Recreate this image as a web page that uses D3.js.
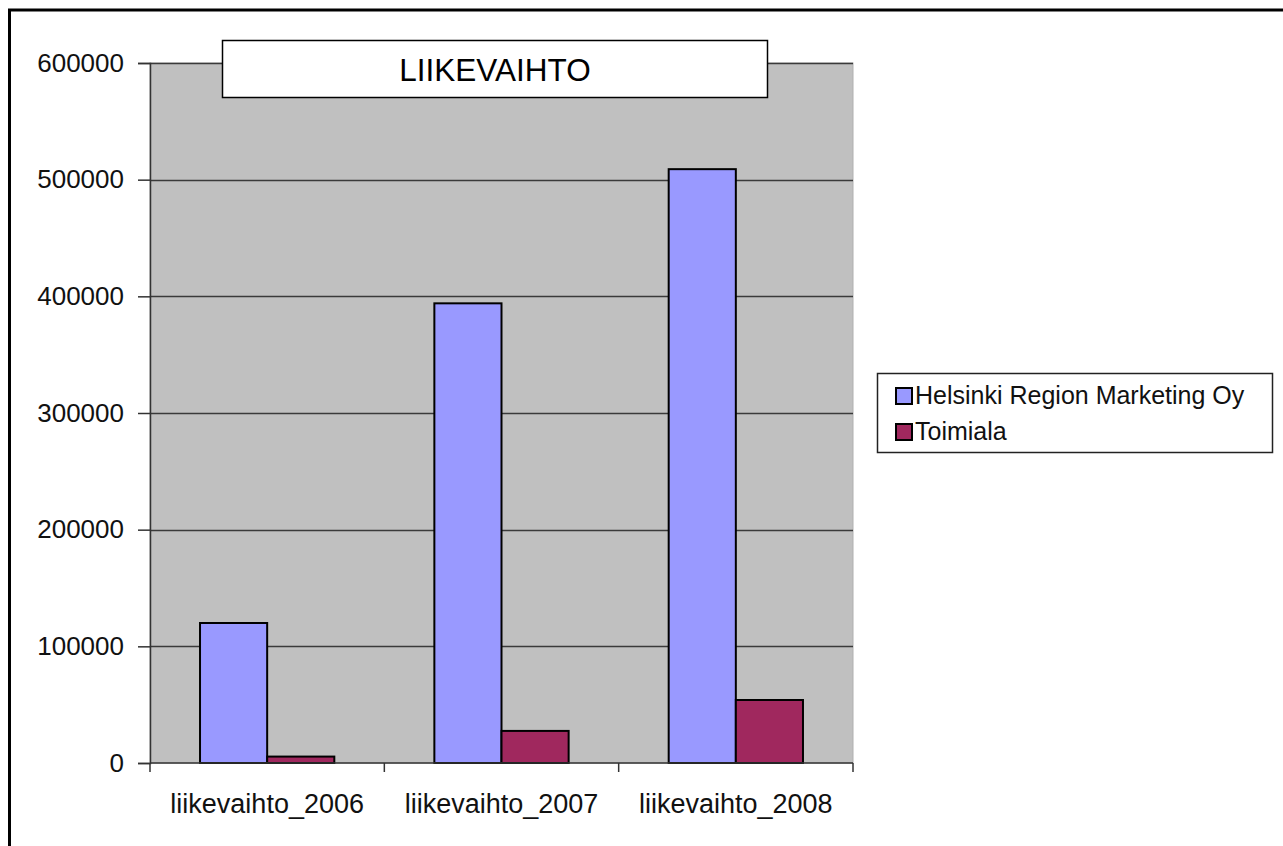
<!DOCTYPE html>
<html><head><meta charset="utf-8">
<script src="https://cdn.jsdelivr.net/npm/d3@7/dist/d3.min.js"></script>
<style>body{margin:0;background:#fff;}svg{display:block;font-family:Arial,"Liberation Sans",sans-serif;}</style>
</head><body><svg id="c" width="1283" height="846"></svg>
<script>
const categories = ["liikevaihto_2006", "liikevaihto_2007", "liikevaihto_2008"];
const seriesNames = ["Helsinki Region Marketing Oy", "Toimiala"];
const helsinkiValues = [120000, 394000, 509000];
const toimialaValues = [5500, 27500, 54000];
const yTicks = [0, 100000, 200000, 300000, 400000, 500000, 600000];
const colors = ["#9999ff", "#a0285e"];
const chartTitle = "LIIKEVAIHTO";

const svg = d3.select("#c");
// outer frame
svg.append("rect").attr("x", 9.5).attr("y", 10).attr("width", 1400).attr("height", 1000)
  .attr("fill", "#fff").attr("stroke", "#000").attr("stroke-width", 3);

const L = 150, R = 853, T = 63, B = 763;
const x = d3.scaleBand().domain(categories).range([L, R]).paddingInner(0).paddingOuter(0);
const xs = d3.scaleBand().domain(seriesNames).range([0, x.bandwidth()]).paddingInner(0).paddingOuter(0.745);
const y = d3.scaleLinear().domain([0, 600000]).range([B, T]);

// plot area
svg.append("rect").attr("x", L).attr("y", T).attr("width", R - L).attr("height", B - T)
  .attr("fill", "#c0c0c0").attr("stroke", "#b0b0b0").attr("stroke-width", 1);

// gridlines
svg.append("g").selectAll("line").data(yTicks.filter(d => d > 0)).join("line")
  .attr("x1", L).attr("x2", R).attr("y1", d => Math.round(y(d)) + 0.5).attr("y2", d => Math.round(y(d)) + 0.5)
  .attr("stroke", "#3a3a3a").attr("stroke-width", 1.5);

// bars
const data = categories.map((c, i) => ({c, v: [helsinkiValues[i], toimialaValues[i]]}));
const g = svg.append("g");
data.forEach(d => {
  seriesNames.forEach((s, j) => {
    g.append("rect")
      .attr("x", x(d.c) + xs(s)).attr("width", xs.bandwidth())
      .attr("y", y(d.v[j])).attr("height", B - y(d.v[j]))
      .attr("fill", colors[j]).attr("stroke", "#000").attr("stroke-width", 2);
  });
});

// y axis
const yAxis = d3.axisLeft(y).tickValues(yTicks).tickSize(12).tickPadding(14).tickFormat(d3.format("d"));
const ya = svg.append("g").attr("transform", `translate(${L},0)`).call(yAxis);
ya.select(".domain").attr("stroke", "#333").attr("stroke-width", 1.5);
ya.selectAll(".tick line").attr("stroke", "#333").attr("stroke-width", 1.5);
ya.selectAll("text").attr("font-size", 26).attr("fill", "#111").attr("font-family", "Arial, 'Liberation Sans', sans-serif");

// x axis
const xa = svg.append("g").attr("transform", `translate(0,${B})`);
xa.append("line").attr("x1", L).attr("x2", R).attr("y1", 0).attr("y2", 0).attr("stroke", "#333").attr("stroke-width", 1.5);
xa.selectAll(".tk").data(categories.concat(["end"])).join("line")
  .attr("x1", (d, i) => L + i * x.bandwidth()).attr("x2", (d, i) => L + i * x.bandwidth())
  .attr("y1", 0).attr("y2", 9).attr("stroke", "#333").attr("stroke-width", 1.5);
xa.selectAll("text").data(categories).join("text")
  .attr("x", d => x(d) + x.bandwidth() / 2).attr("y", 50)
  .attr("text-anchor", "middle").attr("font-size", 27).attr("fill", "#111").text(d => d);

// title box
svg.append("rect").attr("x", 222.5).attr("y", 40.5).attr("width", 545).attr("height", 57)
  .attr("fill", "#fff").attr("stroke", "#000").attr("stroke-width", 1.5);
svg.append("text").attr("x", 495).attr("y", 80.5).attr("text-anchor", "middle")
  .attr("font-size", 31.5).attr("fill", "#000").text(chartTitle);

// legend
const lg = svg.append("g").attr("transform", "translate(877,373)");
lg.append("rect").attr("x", 0.5).attr("y", 0.5).attr("width", 395).attr("height", 79)
  .attr("fill", "#fff").attr("stroke", "#222").attr("stroke-width", 1.5);
seriesNames.forEach((s, i) => {
  const yy = 31 + i * 36;
  lg.append("rect").attr("x", 19).attr("y", yy - 16).attr("width", 16).attr("height", 16)
    .attr("fill", colors[i]).attr("stroke", "#000").attr("stroke-width", 2);
  lg.append("text").attr("x", 38).attr("y", yy).attr("font-size", 25).attr("fill", "#111").text(s);
});
</script></body></html>
